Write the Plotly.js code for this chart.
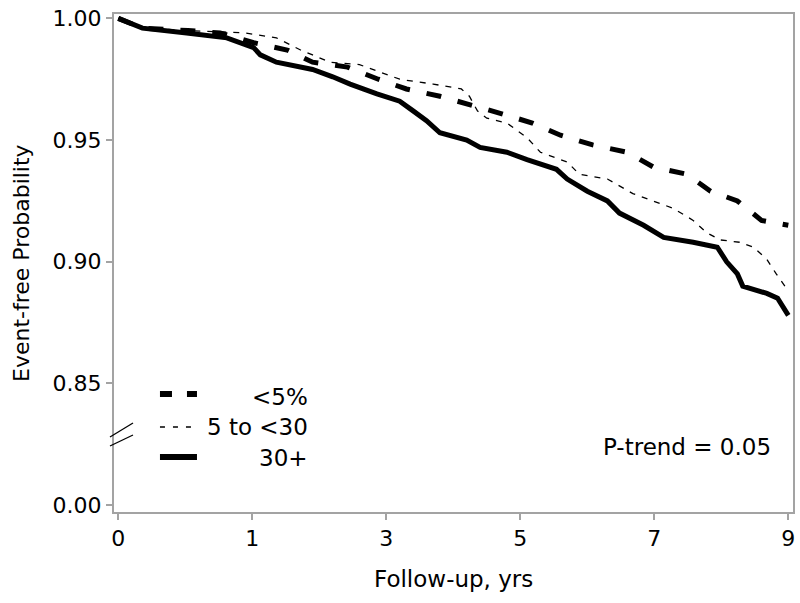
<!DOCTYPE html>
<html>
<head>
<meta charset="utf-8">
<script src="https://cdn.plot.ly/plotly-3.0.1.min.js"></script>
<style>
  html, body { margin: 0; padding: 0; background: #fff; }
  #plot { width: 800px; height: 603px; }
</style>
</head>
<body>
<div id="plot"></div>
<script>
// x is in axis position units: ticks are evenly spaced but labelled 0,1,3,5,7,9 yrs
var xTickPos = [0, 1, 2, 3, 4, 5];
var xTickText = ['0', '1', '3', '5', '7', '9'];

// broken y axis: 0.00 sits where 0.80 would be
var yTickPos = [0.80, 0.85, 0.90, 0.95, 1.00];
var yTickText = ['0.00', '0.85', '0.90', '0.95', '1.00'];

// <5%
var xLow = [0, 0.18, 0.52, 0.76, 1.01, 1.26, 1.45, 1.71, 1.94, 2.15, 2.40, 2.60, 2.85, 3.09, 3.30, 3.54, 3.80, 3.99, 4.24, 4.42, 4.62, 4.80, 5.00];
var yLow = [1.000, 0.996, 0.995, 0.994, 0.990, 0.987, 0.982, 0.980, 0.975, 0.971, 0.968, 0.965, 0.961, 0.957, 0.952, 0.948, 0.945, 0.939, 0.936, 0.929, 0.925, 0.917, 0.915];

// 5 to <30
var xMid = [0, 0.18, 0.52, 0.95, 1.18, 1.36, 1.45, 1.58, 1.80, 1.90, 2.10, 2.35, 2.56, 2.62, 2.68, 2.75, 2.90, 3.05, 3.15, 3.35, 3.44, 3.65, 3.84, 3.99, 4.14, 4.29, 4.39, 4.49, 4.64, 4.74, 4.84, 4.91, 5.00];
var yMid = [1.000, 0.996, 0.995, 0.994, 0.992, 0.987, 0.985, 0.982, 0.981, 0.979, 0.975, 0.973, 0.971, 0.968, 0.962, 0.959, 0.957, 0.951, 0.945, 0.941, 0.936, 0.934, 0.928, 0.925, 0.922, 0.917, 0.912, 0.909, 0.908, 0.906, 0.901, 0.895, 0.888];

// 30+
var xHigh = [0, 0.18, 0.51, 0.81, 1.01, 1.06, 1.18, 1.45, 1.60, 1.73, 1.93, 2.10, 2.20, 2.30, 2.40, 2.60, 2.70, 2.90, 3.05, 3.27, 3.35, 3.50, 3.65, 3.74, 3.92, 4.07, 4.29, 4.47, 4.54, 4.62, 4.66, 4.84, 4.92, 5.00];
var yHigh = [1.000, 0.996, 0.994, 0.992, 0.988, 0.985, 0.982, 0.979, 0.976, 0.973, 0.969, 0.966, 0.962, 0.958, 0.953, 0.950, 0.947, 0.945, 0.942, 0.938, 0.934, 0.929, 0.925, 0.920, 0.915, 0.910, 0.908, 0.906, 0.900, 0.895, 0.890, 0.887, 0.885, 0.878];

var legendNames = ['<5%', '5 to <30', '30+'];

var font = 'DejaVu Sans, Arial, sans-serif';
var axisGray = '#a3a3a3';

var data = [{
    x: xLow, y: yLow, mode: 'lines', name: legendNames[0],
    line: { color: '#000', width: 5, dash: '15px,17px' }
}, {
    x: xMid, y: yMid, mode: 'lines', name: legendNames[1],
    line: { color: '#000', width: 1.3, dash: '6px,7px' }
}, {
    x: xHigh, y: yHigh, mode: 'lines', name: legendNames[2],
    line: { color: '#000', width: 5 }
}];

var layout = {
    width: 800,
    height: 603,
    margin: { l: 114, r: 7, t: 14, b: 91 },
    paper_bgcolor: '#fff',
    plot_bgcolor: '#fff',
    showlegend: false,
    font: { family: font, size: 22, color: '#000' },
    xaxis: {
        range: [-0.032, 5.035],
        tickvals: xTickPos,
        ticktext: xTickText,
        ticks: 'outside',
        ticklen: 6,
        tickwidth: 2,
        tickcolor: axisGray,
        showline: true,
        linecolor: axisGray,
        linewidth: 2,
        mirror: true,
        showgrid: false,
        zeroline: false,
        tickfont: { size: 22 }
    },
    yaxis: {
        range: [0.7972, 1.0018],
        tickvals: yTickPos,
        ticktext: yTickText,
        ticks: 'outside',
        ticklen: 6,
        tickwidth: 2,
        tickcolor: axisGray,
        showline: true,
        linecolor: axisGray,
        linewidth: 2,
        mirror: true,
        showgrid: false,
        zeroline: false,
        tickfont: { size: 22 }
    },
    shapes: [
        // axis break marks
        { type: 'line', xref: 'paper', yref: 'paper', x0: -0.0059, y0: 0.1506, x1: 0.028, y1: 0.1787, line: { color: '#000', width: 1.3 } },
        { type: 'line', xref: 'paper', yref: 'paper', x0: -0.0059, y0: 0.1325, x1: 0.028, y1: 0.1546, line: { color: '#000', width: 1.3 } },
        // legend keys
        { type: 'line', xref: 'paper', yref: 'paper', x0: 0.0677, y0: 0.2369, x1: 0.1222, y1: 0.2369, line: { color: '#000', width: 6, dash: '12px,15px' } },
        { type: 'line', xref: 'paper', yref: 'paper', x0: 0.0677, y0: 0.1707, x1: 0.1222, y1: 0.1707, line: { color: '#000', width: 1.3, dash: '5px,8px' } },
        { type: 'line', xref: 'paper', yref: 'paper', x0: 0.0677, y0: 0.1104, x1: 0.1222, y1: 0.1104, line: { color: '#000', width: 6 } }
    ],
    annotations: [
        { xref: 'paper', yref: 'paper', x: 0.2887, y: 0.2309, xanchor: 'right', yanchor: 'middle', text: legendNames[0], showarrow: false, font: { size: 23 } },
        { xref: 'paper', yref: 'paper', x: 0.2887, y: 0.1707, xanchor: 'right', yanchor: 'middle', text: legendNames[1], showarrow: false, font: { size: 23 } },
        { xref: 'paper', yref: 'paper', x: 0.2887, y: 0.1084, xanchor: 'right', yanchor: 'middle', text: legendNames[2], showarrow: false, font: { size: 23 } },
        { xref: 'paper', yref: 'paper', x: 0.9705, y: 0.1305, xanchor: 'right', yanchor: 'middle', text: 'P-trend = 0.05', showarrow: false, font: { size: 23 } },
        // axis titles
        { xref: 'paper', yref: 'paper', x: 0.5, y: 0, yshift: -67, xanchor: 'center', yanchor: 'middle', text: 'Follow-up, yrs', showarrow: false, font: { size: 23 } },
        { xref: 'paper', yref: 'paper', x: 0, y: 0.5, xshift: -93, xanchor: 'center', yanchor: 'middle', textangle: -90, text: 'Event-free Probability', showarrow: false, font: { size: 22 } }
    ]
};

Plotly.newPlot('plot', data, layout, { staticPlot: true });
</script>
</body>
</html>
